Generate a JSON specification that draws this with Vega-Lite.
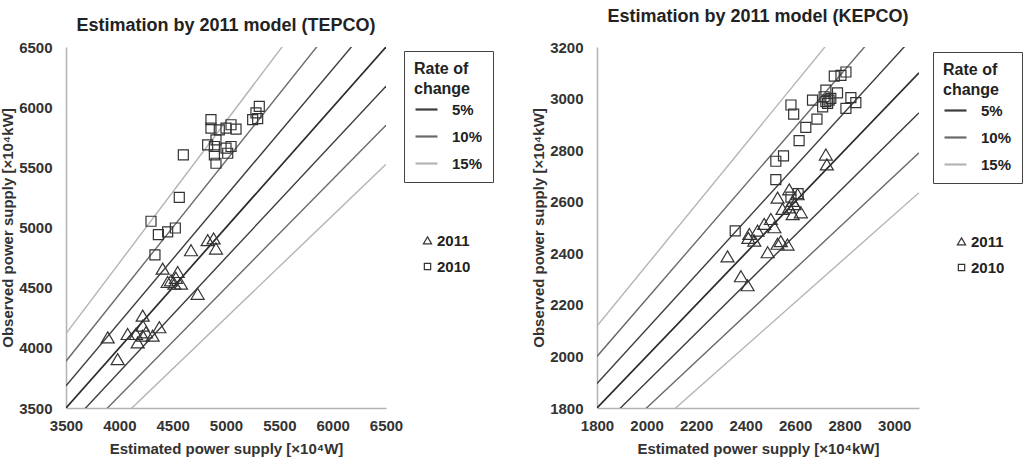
{
  "$schema": "https://vega.github.io/schema/vega-lite/v6.json",
  "background": "white",
  "padding": {"left": 0, "top": 8, "right": 2, "bottom": 2},
  "spacing": 37,
  "config": {
    "font": "Liberation Sans",
    "view": {"stroke": null},
    "axis": {
      "grid": false,
      "ticks": false,
      "tickSize": 0,
      "domainColor": "#b3b3b3",
      "domainWidth": 1.5,
      "labelFont": "Liberation Sans",
      "labelFontSize": 15,
      "labelFontWeight": "bold",
      "labelColor": "#333333",
      "labelFlush": false,
      "labelOverlap": false,
      "titleFont": "Liberation Sans",
      "titleFontSize": 15,
      "titleFontWeight": "bold",
      "titleColor": "#333333"
    },
    "axisX": {"labelPadding": 10, "titlePadding": 8},
    "axisY": {"labelPadding": 14, "titlePadding": 3},
    "title": {"font": "Liberation Sans", "fontSize": 18, "fontWeight": "bold", "color": "#222222", "anchor": "middle"},
    "legend": {
      "labelFont": "Liberation Sans",
      "labelFontSize": 15,
      "labelFontWeight": "bold",
      "labelColor": "#222222",
      "titleFont": "Liberation Sans",
      "titleFontSize": 16,
      "titleFontWeight": "bold",
      "titleColor": "#222222"
    }
  },
  "datasets": {
    "tepco_lines": [
      {"line": "center", "rate": "0%", "x": 3500, "y": 3500},
      {"line": "center", "rate": "0%", "x": 6500, "y": 6500},
      {"line": "up5", "rate": "5%", "x": 3500, "y": 3684.2},
      {"line": "up5", "rate": "5%", "x": 6500, "y": 6842.1},
      {"line": "lo5", "rate": "5%", "x": 3500, "y": 3325},
      {"line": "lo5", "rate": "5%", "x": 6500, "y": 6175},
      {"line": "up10", "rate": "10%", "x": 3500, "y": 3888.9},
      {"line": "up10", "rate": "10%", "x": 6500, "y": 7222.2},
      {"line": "lo10", "rate": "10%", "x": 3500, "y": 3150},
      {"line": "lo10", "rate": "10%", "x": 6500, "y": 5850},
      {"line": "up15", "rate": "15%", "x": 3500, "y": 4117.6},
      {"line": "up15", "rate": "15%", "x": 6500, "y": 7647.1},
      {"line": "lo15", "rate": "15%", "x": 3500, "y": 2975},
      {"line": "lo15", "rate": "15%", "x": 6500, "y": 5525}
    ],
    "kepco_lines": [
      {"line": "center", "rate": "0%", "x": 1800, "y": 1800},
      {"line": "center", "rate": "0%", "x": 3100, "y": 3100},
      {"line": "up5", "rate": "5%", "x": 1800, "y": 1894.7},
      {"line": "up5", "rate": "5%", "x": 3100, "y": 3263.2},
      {"line": "lo5", "rate": "5%", "x": 1800, "y": 1710},
      {"line": "lo5", "rate": "5%", "x": 3100, "y": 2945},
      {"line": "up10", "rate": "10%", "x": 1800, "y": 2000},
      {"line": "up10", "rate": "10%", "x": 3100, "y": 3444.4},
      {"line": "lo10", "rate": "10%", "x": 1800, "y": 1620},
      {"line": "lo10", "rate": "10%", "x": 3100, "y": 2790},
      {"line": "up15", "rate": "15%", "x": 1800, "y": 2117.6},
      {"line": "up15", "rate": "15%", "x": 3100, "y": 3647.1},
      {"line": "lo15", "rate": "15%", "x": 1800, "y": 1530},
      {"line": "lo15", "rate": "15%", "x": 3100, "y": 2635}
    ],
    "tepco_points": [
      {"year": "2011", "est": 4828, "obs": 4893},
      {"year": "2011", "est": 4884, "obs": 4907},
      {"year": "2011", "est": 4906, "obs": 4823},
      {"year": "2011", "est": 4672, "obs": 4809},
      {"year": "2011", "est": 4406, "obs": 4656},
      {"year": "2011", "est": 4547, "obs": 4628},
      {"year": "2011", "est": 4484, "obs": 4559},
      {"year": "2011", "est": 4516, "obs": 4531},
      {"year": "2011", "est": 4578, "obs": 4531},
      {"year": "2011", "est": 4453, "obs": 4545},
      {"year": "2011", "est": 4530, "obs": 4580},
      {"year": "2011", "est": 4734, "obs": 4447},
      {"year": "2011", "est": 4219, "obs": 4266},
      {"year": "2011", "est": 4219, "obs": 4183},
      {"year": "2011", "est": 4375, "obs": 4169},
      {"year": "2011", "est": 4078, "obs": 4113},
      {"year": "2011", "est": 4156, "obs": 4113},
      {"year": "2011", "est": 4219, "obs": 4099},
      {"year": "2011", "est": 4250, "obs": 4127},
      {"year": "2011", "est": 4312, "obs": 4099},
      {"year": "2011", "est": 4172, "obs": 4043},
      {"year": "2011", "est": 3891, "obs": 4085},
      {"year": "2011", "est": 3984, "obs": 3904},
      {"year": "2010", "est": 5312, "obs": 6007},
      {"year": "2010", "est": 5281, "obs": 5952},
      {"year": "2010", "est": 5250, "obs": 5896},
      {"year": "2010", "est": 5297, "obs": 5904},
      {"year": "2010", "est": 4859, "obs": 5896},
      {"year": "2010", "est": 4859, "obs": 5826},
      {"year": "2010", "est": 4937, "obs": 5812},
      {"year": "2010", "est": 5000, "obs": 5826},
      {"year": "2010", "est": 5047, "obs": 5854},
      {"year": "2010", "est": 5094, "obs": 5818},
      {"year": "2010", "est": 4828, "obs": 5687},
      {"year": "2010", "est": 4906, "obs": 5729},
      {"year": "2010", "est": 4891, "obs": 5673},
      {"year": "2010", "est": 5000, "obs": 5659},
      {"year": "2010", "est": 5047, "obs": 5673},
      {"year": "2010", "est": 4891, "obs": 5603},
      {"year": "2010", "est": 5016, "obs": 5617},
      {"year": "2010", "est": 4906, "obs": 5534},
      {"year": "2010", "est": 4600, "obs": 5603},
      {"year": "2010", "est": 4562, "obs": 5250},
      {"year": "2010", "est": 4297, "obs": 5052},
      {"year": "2010", "est": 4366, "obs": 4940},
      {"year": "2010", "est": 4453, "obs": 4963},
      {"year": "2010", "est": 4525, "obs": 4996},
      {"year": "2010", "est": 4334, "obs": 4773}
    ],
    "kepco_points": [
      {"year": "2011", "est": 2724, "obs": 2782},
      {"year": "2011", "est": 2728, "obs": 2744},
      {"year": "2011", "est": 2576, "obs": 2647},
      {"year": "2011", "est": 2529, "obs": 2615},
      {"year": "2011", "est": 2610, "obs": 2628},
      {"year": "2011", "est": 2590, "obs": 2602},
      {"year": "2011", "est": 2597, "obs": 2590},
      {"year": "2011", "est": 2576, "obs": 2577},
      {"year": "2011", "est": 2549, "obs": 2571},
      {"year": "2011", "est": 2623, "obs": 2558},
      {"year": "2011", "est": 2590, "obs": 2551},
      {"year": "2011", "est": 2516, "obs": 2500},
      {"year": "2011", "est": 2502, "obs": 2532},
      {"year": "2011", "est": 2475, "obs": 2513},
      {"year": "2011", "est": 2448, "obs": 2487},
      {"year": "2011", "est": 2415, "obs": 2474},
      {"year": "2011", "est": 2411, "obs": 2459},
      {"year": "2011", "est": 2435, "obs": 2448},
      {"year": "2011", "est": 2529, "obs": 2436},
      {"year": "2011", "est": 2542, "obs": 2446},
      {"year": "2011", "est": 2569, "obs": 2433},
      {"year": "2011", "est": 2489, "obs": 2403},
      {"year": "2011", "est": 2327, "obs": 2387},
      {"year": "2011", "est": 2381, "obs": 2310},
      {"year": "2011", "est": 2408, "obs": 2275},
      {"year": "2010", "est": 2805, "obs": 3103},
      {"year": "2010", "est": 2785, "obs": 3090},
      {"year": "2010", "est": 2758, "obs": 3087},
      {"year": "2010", "est": 2724, "obs": 3033},
      {"year": "2010", "est": 2771, "obs": 3022},
      {"year": "2010", "est": 2825, "obs": 3004},
      {"year": "2010", "est": 2845, "obs": 2984},
      {"year": "2010", "est": 2805, "obs": 2962},
      {"year": "2010", "est": 2717, "obs": 3007},
      {"year": "2010", "est": 2731, "obs": 2981},
      {"year": "2010", "est": 2711, "obs": 2968},
      {"year": "2010", "est": 2737, "obs": 2994},
      {"year": "2010", "est": 2724, "obs": 2988},
      {"year": "2010", "est": 2744, "obs": 3001},
      {"year": "2010", "est": 2670, "obs": 2994},
      {"year": "2010", "est": 2583, "obs": 2975},
      {"year": "2010", "est": 2594, "obs": 2940},
      {"year": "2010", "est": 2688, "obs": 2920},
      {"year": "2010", "est": 2643, "obs": 2888},
      {"year": "2010", "est": 2616, "obs": 2837},
      {"year": "2010", "est": 2553, "obs": 2778},
      {"year": "2010", "est": 2522, "obs": 2757},
      {"year": "2010", "est": 2522, "obs": 2686},
      {"year": "2010", "est": 2358, "obs": 2487},
      {"year": "2010", "est": 2612, "obs": 2631},
      {"year": "2010", "est": 2583, "obs": 2618}
    ]
  },
  "resolve": {
    "scale": {"x": "independent", "y": "independent", "color": "independent", "shape": "independent"},
    "legend": {"color": "independent", "shape": "independent"}
  },
  "hconcat": [
    {
      "width": 320,
      "height": 361,
      "title": {"text": "Estimation by 2011 model (TEPCO)", "offset": 5},
      "layer": [
        {
          "data": {"name": "tepco_lines"},
          "transform": [{"filter": "datum.rate === '0%'"}],
          "mark": {"type": "line", "clip": true, "color": "#2a2a2a", "strokeWidth": 1.7},
          "encoding": {
            "x": {"field": "x", "type": "quantitative", "scale": {"domain": [3500, 6500], "nice": false, "zero": false},
                  "axis": {"title": "Estimated power supply [×10⁴W]", "values": [3500, 4000, 4500, 5000, 5500, 6000, 6500], "format": "d"}},
            "y": {"field": "y", "type": "quantitative", "scale": {"domain": [3500, 6500], "nice": false, "zero": false},
                  "axis": {"title": "Observed power supply [×10⁴kW]", "values": [3500, 4000, 4500, 5000, 5500, 6000, 6500], "format": "d"}}
          }
        },
        {
          "data": {"name": "tepco_lines"},
          "transform": [{"filter": "datum.rate !== '0%'"}],
          "mark": {"type": "line", "clip": true, "strokeWidth": 1.4},
          "encoding": {
            "x": {"field": "x", "type": "quantitative"},
            "y": {"field": "y", "type": "quantitative"},
            "detail": {"field": "line"},
            "color": {
              "field": "rate", "type": "nominal",
              "scale": {"domain": ["5%", "10%", "15%"], "range": ["#3c3c3c", "#6a6a6a", "#b4b4b4"]},
              "legend": {
                "title": ["Rate of", "change"],
                "orient": "none", "legendX": 338, "legendY": 4,
                "strokeColor": "#444444", "padding": 10,
                "symbolType": "stroke", "symbolSize": 484, "symbolStrokeWidth": 2.2,
                "labelOffset": 13, "rowPadding": 6, "titlePadding": 0, "titleLineHeight": 20
              }
            }
          }
        },
        {
          "data": {"name": "tepco_points"},
          "mark": {"type": "point", "filled": false, "stroke": "#333333", "strokeWidth": 1.2, "size": 100, "opacity": 1},
          "encoding": {
            "x": {"field": "est", "type": "quantitative"},
            "y": {"field": "obs", "type": "quantitative"},
            "shape": {
              "field": "year", "type": "nominal",
              "scale": {"domain": ["2011", "2010"], "range": ["M0,-1.15L1.3,1.05L-1.3,1.05Z", "M-1,-1H1V1H-1Z"]},
              "legend": {
                "title": null, "orient": "none", "legendX": 354, "legendY": 186,
                "symbolSize": 40, "symbolStrokeColor": "#333333", "symbolStrokeWidth": 1.2,
                "labelOffset": 2, "rowPadding": 10
              }
            }
          }
        }
      ]
    },
    {
      "width": 322,
      "height": 361,
      "title": {"text": "Estimation by 2011 model (KEPCO)", "offset": 14},
      "layer": [
        {
          "data": {"name": "kepco_lines"},
          "transform": [{"filter": "datum.rate === '0%'"}],
          "mark": {"type": "line", "clip": true, "color": "#2a2a2a", "strokeWidth": 1.7},
          "encoding": {
            "x": {"field": "x", "type": "quantitative", "scale": {"domain": [1800, 3100], "nice": false, "zero": false},
                  "axis": {"title": "Estimated power supply [×10⁴kW]", "values": [1800, 2000, 2200, 2400, 2600, 2800, 3000], "format": "d"}},
            "y": {"field": "y", "type": "quantitative", "scale": {"domain": [1800, 3200], "nice": false, "zero": false},
                  "axis": {"title": "Observed power supply [×10⁴kW]", "values": [1800, 2000, 2200, 2400, 2600, 2800, 3000, 3200], "format": "d"}}
          }
        },
        {
          "data": {"name": "kepco_lines"},
          "transform": [{"filter": "datum.rate !== '0%'"}],
          "mark": {"type": "line", "clip": true, "strokeWidth": 1.4},
          "encoding": {
            "x": {"field": "x", "type": "quantitative"},
            "y": {"field": "y", "type": "quantitative"},
            "detail": {"field": "line"},
            "color": {
              "field": "rate", "type": "nominal",
              "scale": {"domain": ["5%", "10%", "15%"], "range": ["#3c3c3c", "#6a6a6a", "#b4b4b4"]},
              "legend": {
                "title": ["Rate of", "change"],
                "orient": "none", "legendX": 336, "legendY": 5,
                "strokeColor": "#444444", "padding": 10,
                "symbolType": "stroke", "symbolSize": 484, "symbolStrokeWidth": 2.2,
                "labelOffset": 13, "rowPadding": 6, "titlePadding": 0, "titleLineHeight": 20
              }
            }
          }
        },
        {
          "data": {"name": "kepco_points"},
          "mark": {"type": "point", "filled": false, "stroke": "#333333", "strokeWidth": 1.2, "size": 100, "opacity": 1},
          "encoding": {
            "x": {"field": "est", "type": "quantitative"},
            "y": {"field": "obs", "type": "quantitative"},
            "shape": {
              "field": "year", "type": "nominal",
              "scale": {"domain": ["2011", "2010"], "range": ["M0,-1.15L1.3,1.05L-1.3,1.05Z", "M-1,-1H1V1H-1Z"]},
              "legend": {
                "title": null, "orient": "none", "legendX": 357, "legendY": 187,
                "symbolSize": 40, "symbolStrokeColor": "#333333", "symbolStrokeWidth": 1.2,
                "labelOffset": 2, "rowPadding": 10
              }
            }
          }
        }
      ]
    }
  ]
}
